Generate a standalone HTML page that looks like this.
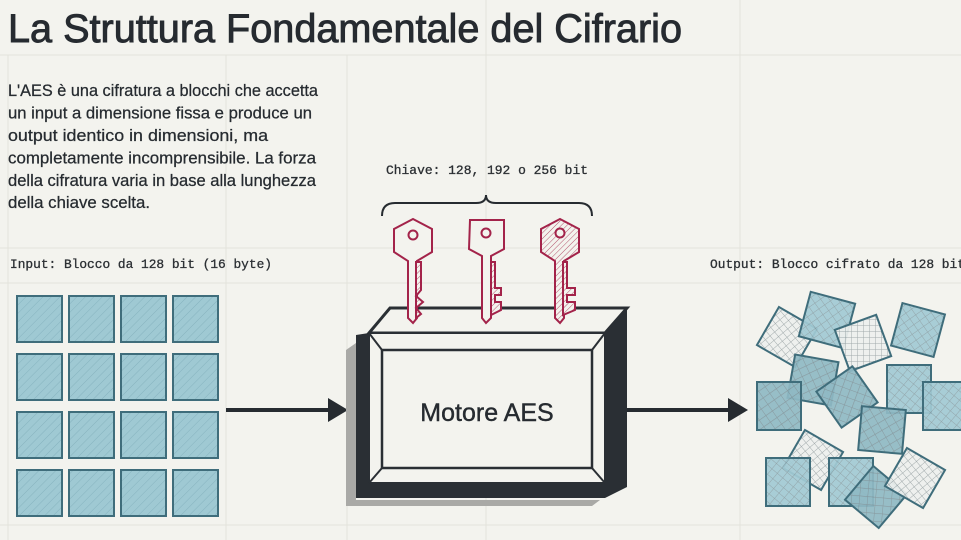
<!DOCTYPE html>
<html><head><meta charset="utf-8"><style>
html,body{margin:0;padding:0;background:#f3f3ee;}
svg{display:block}
</style></head><body>
<svg width="961" height="540" viewBox="0 0 961 540" xmlns="http://www.w3.org/2000/svg">
<defs>
<pattern id="d1" width="6" height="6" patternUnits="userSpaceOnUse" patternTransform="rotate(45)"><rect width="6" height="6" fill="#9fc9d3"/><line x1="0" y1="0" x2="0" y2="6" stroke="#86b3bf" stroke-width="1"/></pattern>
<pattern id="x1" width="7" height="7" patternUnits="userSpaceOnUse" patternTransform="rotate(40)"><rect width="7" height="7" fill="#a2cad4"/><line x1="0" y1="0" x2="0" y2="7" stroke="#8a9ea4" stroke-width="1"/><line x1="0" y1="0" x2="7" y2="0" stroke="#8a9ea4" stroke-width="1"/></pattern>
<pattern id="x2" width="6" height="6" patternUnits="userSpaceOnUse" patternTransform="rotate(20)"><rect width="6" height="6" fill="#eef0ee"/><line x1="0" y1="0" x2="0" y2="6" stroke="#9aa4a6" stroke-width="1"/><line x1="0" y1="0" x2="6" y2="0" stroke="#9aa4a6" stroke-width="1"/></pattern>
<pattern id="x3" width="8" height="8" patternUnits="userSpaceOnUse" patternTransform="rotate(55)"><rect width="8" height="8" fill="#8fb9c4"/><line x1="0" y1="0" x2="0" y2="8" stroke="#7f9298" stroke-width="1.2"/><line x1="0" y1="0" x2="8" y2="0" stroke="#7f9298" stroke-width="1"/></pattern>
<pattern id="kh" width="4" height="4" patternUnits="userSpaceOnUse" patternTransform="rotate(45)"><rect width="4" height="4" fill="#f3f3ee"/><line x1="0" y1="0" x2="0" y2="4" stroke="#b5556f" stroke-width="1"/></pattern>
</defs>
<g stroke="#e3e3dc" stroke-width="1">
<line x1="8" y1="55" x2="8" y2="540"/><line x1="226" y1="55" x2="226" y2="540"/><line x1="347" y1="55" x2="347" y2="540"/><line x1="486" y1="0" x2="486" y2="540"/><line x1="740" y1="0" x2="740" y2="540"/>
<line x1="0" y1="55" x2="961" y2="55"/><line x1="0" y1="248" x2="961" y2="248"/><line x1="0" y1="283" x2="961" y2="283"/><line x1="0" y1="525" x2="961" y2="525"/>
</g>
<text x="8" y="42" font-family="Liberation Sans, sans-serif" font-size="40" fill="#262b30" stroke="#262b30" stroke-width="0.9" textLength="674" lengthAdjust="spacingAndGlyphs">La Struttura Fondamentale del Cifrario</text>
<g font-family="Liberation Sans, sans-serif" font-size="16.5" fill="#262b30" stroke="#262b30" stroke-width="0.25">
<text x="8" y="96" textLength="310" lengthAdjust="spacingAndGlyphs">L'AES è una cifratura a blocchi che accetta</text>
<text x="8" y="118.5" textLength="304" lengthAdjust="spacingAndGlyphs">un input a dimensione fissa e produce un</text>
<text x="8" y="141" textLength="260" lengthAdjust="spacingAndGlyphs">output identico in dimensioni, ma</text>
<text x="8" y="163.5" textLength="308" lengthAdjust="spacingAndGlyphs">completamente incomprensibile. La forza</text>
<text x="8" y="186" textLength="308" lengthAdjust="spacingAndGlyphs">della cifratura varia in base alla lunghezza</text>
<text x="8" y="208" textLength="142" lengthAdjust="spacingAndGlyphs">della chiave scelta.</text>
</g>
<g font-family="Liberation Mono, monospace" font-size="13" fill="#2b2f33" stroke="#2b2f33" stroke-width="0.3">
<text x="10" y="268" textLength="262" lengthAdjust="spacingAndGlyphs">Input: Blocco da 128 bit (16 byte)</text>
<text x="386" y="174" textLength="202" lengthAdjust="spacingAndGlyphs">Chiave: 128, 192 o 256 bit</text>
<text x="710" y="268" textLength="255" lengthAdjust="spacingAndGlyphs">Output: Blocco cifrato da 128 bit</text>
</g>
<path d="M382,216 Q382,203 395,203 L476,203 Q486,203 486,195 Q486,203 496,203 L579,203 Q592,203 592,216" fill="none" stroke="#262b30" stroke-width="2"/>
<g stroke="#3f6d7b" stroke-width="2" fill="url(#d1)">
<rect x="17" y="296" width="45" height="46"/><rect x="69" y="296" width="45" height="46"/><rect x="121" y="296" width="45" height="46"/><rect x="173" y="296" width="45" height="46"/>
<rect x="17" y="354" width="45" height="46"/><rect x="69" y="354" width="45" height="46"/><rect x="121" y="354" width="45" height="46"/><rect x="173" y="354" width="45" height="46"/>
<rect x="17" y="412" width="45" height="46"/><rect x="69" y="412" width="45" height="46"/><rect x="121" y="412" width="45" height="46"/><rect x="173" y="412" width="45" height="46"/>
<rect x="17" y="470" width="45" height="46"/><rect x="69" y="470" width="45" height="46"/><rect x="121" y="470" width="45" height="46"/><rect x="173" y="470" width="45" height="46"/>
</g>
<line x1="226" y1="410" x2="332" y2="410" stroke="#262b30" stroke-width="4"/>
<polygon points="328,398 348,410 328,422" fill="#262b30"/>
<line x1="626" y1="410" x2="732" y2="410" stroke="#262b30" stroke-width="4"/>
<polygon points="728,398 748,410 728,422" fill="#262b30"/>
<polygon points="346,350 356,343 356,500 600,500 592,506 346,506" fill="#a9a9a6"/>
<polygon points="356,335 369,333 605,333 627,307 627,487 605,498 356,498" fill="#2a2f34"/>
<polygon points="369,333 390,308 627,308 605,333" fill="#f3f3ee" stroke="#2a2f34" stroke-width="3"/>
<rect x="369" y="333" width="236" height="150" fill="#f3f3ee" stroke="#2a2f34" stroke-width="2"/>
<rect x="382" y="350" width="210" height="118" fill="#f3f3ee" stroke="#2a2f34" stroke-width="2.5"/>
<g stroke="#2a2f34" stroke-width="2"><line x1="369" y1="333" x2="382" y2="350"/><line x1="605" y1="333" x2="592" y2="350"/><line x1="369" y1="483" x2="382" y2="468"/><line x1="605" y1="483" x2="592" y2="468"/></g>
<text x="487" y="421" text-anchor="middle" font-family="Liberation Sans, sans-serif" font-size="25" fill="#262b30" stroke="#262b30" stroke-width="0.4">Motore AES</text>
<g stroke="#a3234a" stroke-width="2" fill="#f3f3ee">
<path d="M413,219 L432,229 L432,252 L417,261 L417,318 L413,323 L408,318 L408,261 L394,252 L394,229 Z"/>
<path d="M416,262 L421,262 L421,290 L416,296 L423,302 L416,308 L421,314 L416,318 Z" fill="url(#kh)"/>
<circle cx="413" cy="235" r="4.5"/>
<path d="M470,220 L504,220 L504,249 L491,256 L491,318 L486,323 L482,318 L482,256 L469,249 Z"/>
<path d="M491,262 L495,262 L495,288 L501,288 L501,295 L495,295 L495,302 L501,302 L501,310 L491,315 Z" fill="url(#kh)"/>
<circle cx="486" cy="233" r="4.5"/>
<path d="M560,219 L579,229 L579,252 L564,261 L564,318 L560,323 L555,318 L555,261 L541,252 L541,229 Z" fill="url(#kh)"/>
<path d="M563,262 L567,262 L567,288 L575,288 L575,295 L567,295 L567,302 L575,302 L575,310 L563,315 Z" fill="url(#kh)"/>
<circle cx="560" cy="233" r="4.5" fill="#f3f3ee"/>
</g>
<g stroke="#3f6d7b" stroke-width="2" fill-opacity="0.92">
<rect x="-22" y="-22" width="44" height="44" fill="url(#x2)" transform="translate(787,337) rotate(30)"/>
<rect x="-23" y="-23" width="46" height="46" fill="url(#x1)" transform="translate(827,320) rotate(15)"/>
<rect x="-22" y="-22" width="44" height="44" fill="url(#x2)" transform="translate(863,343) rotate(-20)"/>
<rect x="-22" y="-22" width="44" height="44" fill="url(#x1)" transform="translate(918,330) rotate(15)"/>
<rect x="-22" y="-22" width="44" height="44" fill="url(#x3)" transform="translate(813,380) rotate(10)"/>
<rect x="-22" y="-24" width="44" height="48" fill="url(#x3)" transform="translate(779,406)"/>
<rect x="-22" y="-22" width="44" height="44" fill="url(#x3)" transform="translate(847,397) rotate(-35)"/>
<rect x="-22" y="-24" width="44" height="48" fill="url(#x1)" transform="translate(909,389)"/>
<rect x="-22" y="-24" width="44" height="48" fill="url(#x1)" transform="translate(945,406)"/>
<rect x="-22" y="-22" width="44" height="44" fill="url(#x3)" transform="translate(882,430) rotate(5)"/>
<rect x="-22" y="-22" width="44" height="44" fill="url(#x2)" transform="translate(813,460) rotate(30)"/>
<rect x="-22" y="-24" width="44" height="48" fill="url(#x1)" transform="translate(788,482)"/>
<rect x="-22" y="-24" width="44" height="48" fill="url(#x1)" transform="translate(851,482)"/>
<rect x="-22" y="-22" width="44" height="44" fill="url(#x3)" transform="translate(876,497) rotate(40)"/>
<rect x="-22" y="-22" width="44" height="44" fill="url(#x2)" transform="translate(915,478) rotate(30)"/>
</g>
</svg>
</body></html>
